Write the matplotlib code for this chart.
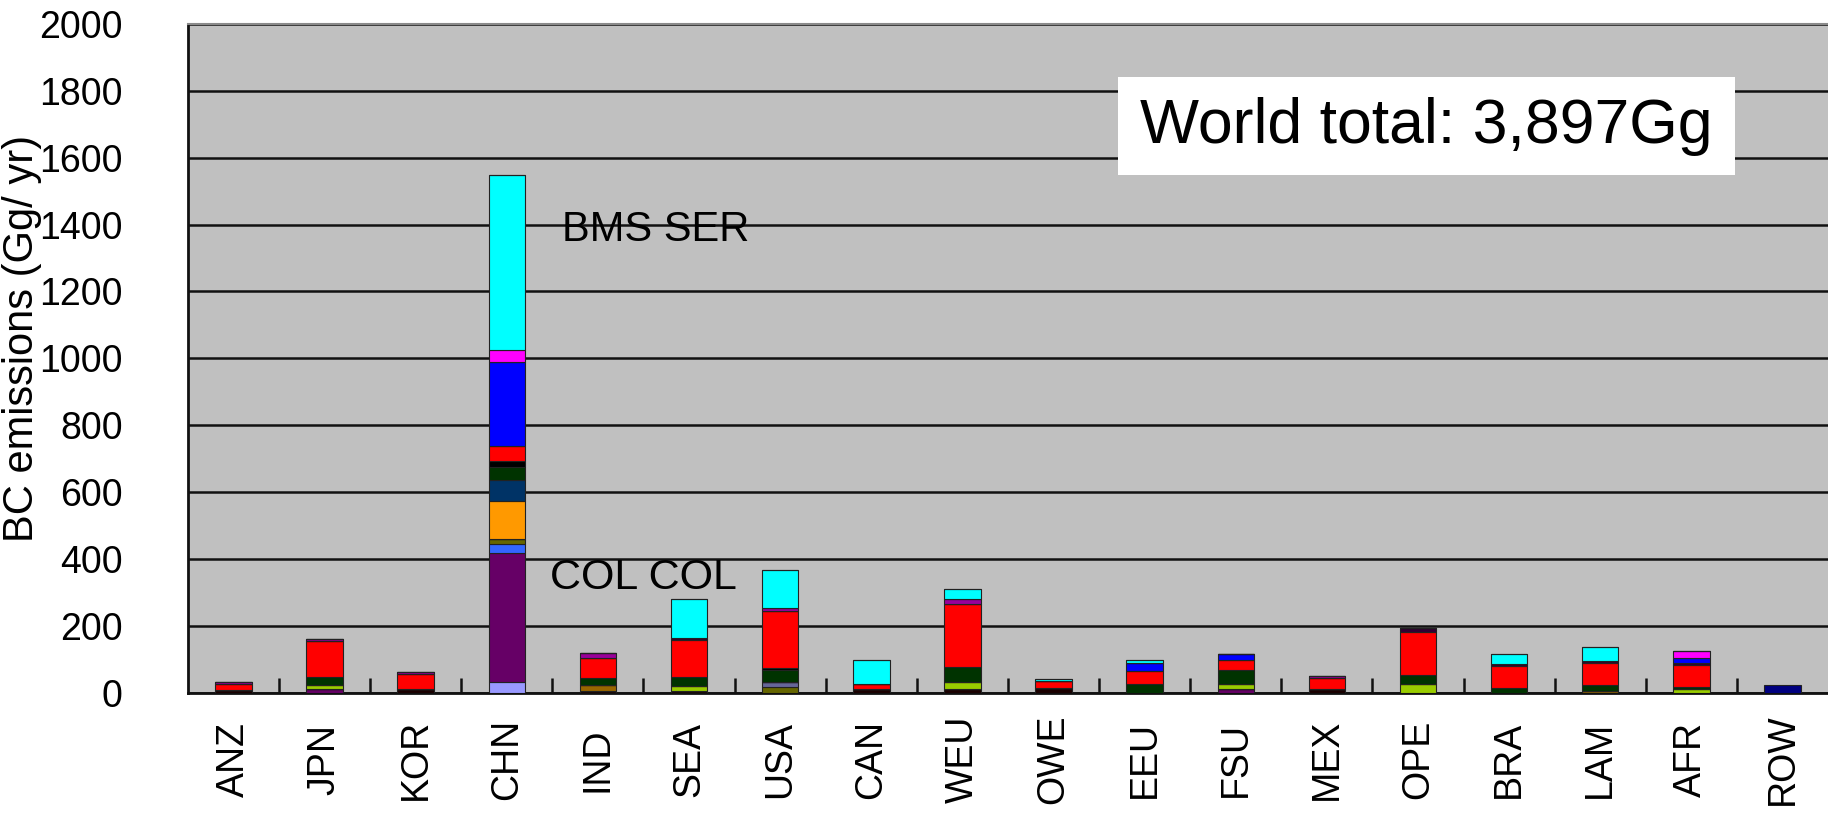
import numpy as np
import matplotlib
matplotlib.use("Agg")
import matplotlib.pyplot as plt
from matplotlib.patches import Rectangle

plt.rcParams["font.family"] = ["Liberation Sans", "DejaVu Sans"]

regions = ["ANZ", "JPN", "KOR", "CHN", "IND", "SEA", "USA", "CAN", "WEU",
           "OWE", "EEU", "FSU", "MEX", "OPE", "BRA", "LAM", "AFR", "ROW"]

# BC emissions per region and source, Gg/yr, stacked bottom -> top
#                ANZ JPN KOR  CHN IND  SEA  USA CAN  WEU OWE EEU FSU MEX  OPE BRA LAM AFR ROW
blk0 = np.array([8,   0, 13,   0,  5,   5,   0, 12,  12, 15,  0,  0, 12,   0,  0,  0,  0,  0])
lav  = np.array([0,   0,  0,  32,  0,   0,   0,  0,   0,  0,  0,  0,  0,   0,  0,  0,  0,  0])
pur  = np.array([0,  13,  0, 385,  0,   0,   0,  0,   0,  0,  0, 13,  0,   0,  0,  0,  0,  0])
rbl  = np.array([0,   0,  0,  29,  0,   0,   0,  0,   0,  0,  0,  0,  0,   0,  0,  0,  0,  0])
olv  = np.array([0,   0,  0,  14,  0,   0,  17,  0,   0,  0,  0,  0,  0,   0,  0,  0,  0,  0])
slt  = np.array([0,   0,  0,   0,  0,   0,  15,  0,   0,  0,  0,  0,  0,   0,  0,  0,  0,  0])
brn  = np.array([0,   0,  0,   0, 18,   0,   0,  0,   0,  0,  0,  0,  0,   0,  0,  5,  0,  0])
ygr  = np.array([0,  10,  0,   0,  0,  15,   0,  0,  20,  0,  0, 15,  0,  27,  0,  0, 12,  0])
org  = np.array([0,   0,  0, 113,  0,   0,   0,  0,   0,  0,  0,  0,  0,   0,  0,  0,  0,  0])
nav  = np.array([0,   0,  0,  62,  0,   0,   0,  0,   0,  0,  0,  0,  0,   0,  0,  0,  0,  0])
dgr  = np.array([0,  25,  0,  41, 22,  28,  36,  0,  45,  0, 28, 40,  0,  28, 15, 18,  5,  0])
blk1 = np.array([0,   0,  0,  17,  0,   0,   7,  0,   0,  0,  0,  0,  0,   0,  0,  0,  0,  0])
red  = np.array([20, 108, 45, 45, 60, 109, 170, 15, 190, 20, 37, 30, 33, 127, 65, 67, 66,  0])
dk2  = np.array([0,   0,  0,   0,  0,   8,   0,  0,   0,  0,  0,  0,  0,  13,  5,  5,  5,  0])
blu  = np.array([0,   0,  0, 250,  0,   0,   0,  0,   0,  0, 23, 17,  0,   0,  0,  0, 15,  0])
mgp  = np.array([5,   6,  4,   0, 14,   0,   8,  0,  13,  0,  0,  0,  5,   0,  0,  0,  0,  0])
pnk  = np.array([0,   0,  0,  38,  0,   0,   0,  0,   0,  0,  0,  0,  0,   0,  0,  0, 22,  0])
cyn  = np.array([0,   0,  0, 522,  0, 117, 113, 71,  32,  7, 10,  0,  0,   0, 30, 43,  0,  0])
nvy  = np.array([0,   0,  0,   0,  0,   0,   0,  0,   0,  0,  0,  0,  0,   0,  0,  0,  0, 25])

series = [blk0, lav, pur, rbl, olv, slt, brn, ygr, org, nav,
          dgr, blk1, red, dk2, blu, mgp, pnk, cyn, nvy]
colors = ["#1a0000", "#9999FF", "#660066", "#3366FF", "#666600", "#666699",
          "#996600", "#99CC00", "#FF9900", "#003366", "#003300", "#000000",
          "#FF0000", "#330033", "#0000FF", "#990099", "#FF00FF", "#00FFFF",
          "#000080"]

fig = plt.figure(figsize=(18.28, 8.21), dpi=100)
ax = fig.add_axes([0.1028, 0.156, 0.8972, 0.815])
ax.set_facecolor("#C0C0C0")

x = np.arange(len(regions))
bottom = np.zeros(len(regions))
for vals, col in zip(series, colors):
    ax.bar(x, vals, 0.4, bottom=bottom, color=col, edgecolor="#222222",
           linewidth=0.8, zorder=3)
    bottom += vals

ax.set_xlim(-0.5, len(regions) - 0.5)
ax.set_ylim(0, 2000)
ax.set_yticks(np.arange(0, 2001, 200))
ax.yaxis.grid(True, color="#111111", linewidth=1.8, zorder=1)
ax.set_axisbelow(True)

ax.set_xticks(x)
ax.set_xticklabels(regions, rotation=90, va="center", ha="center", fontsize=27)
ax.set_xticks(x[:-1] + 0.5, minor=True)
ax.tick_params(axis="x", which="major", length=0, pad=48)
ax.tick_params(axis="x", which="minor", direction="in", length=11, width=1.8,
               color="#111111")
ax.tick_params(axis="y", length=0, pad=47, labelsize=27)

ax.set_ylabel("BC emissions (Gg/ yr)", fontsize=30)
ax.yaxis.set_label_coords(-0.089, 0.53)

for side in ("left", "bottom"):
    ax.spines[side].set_color("#111111")
    ax.spines[side].set_linewidth(2)
ax.spines["top"].set_color("#8a8a8a")
ax.spines["top"].set_linewidth(1.5)
ax.spines["right"].set_visible(False)

ax.text(3.61, 1385, "BMS SER", fontsize=30, ha="left", va="center", zorder=4)
ax.text(3.47, 345, "COL COL", fontsize=31, ha="left", va="center", zorder=4)

ax.add_patch(Rectangle((0.567, 0.774), 0.376, 0.147, transform=ax.transAxes,
                       facecolor="white", edgecolor="none", zorder=4))
ax.text(0.755, 0.847, "World total: 3,897Gg", transform=ax.transAxes,
        fontsize=45, ha="center", va="center", zorder=5)

fig.savefig("out.png", dpi=100, facecolor="white")
